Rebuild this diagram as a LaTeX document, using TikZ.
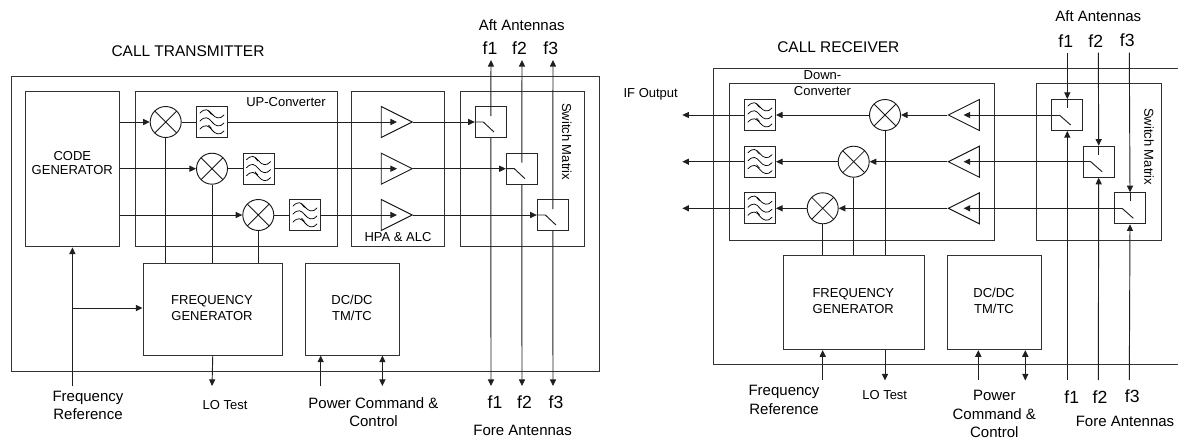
\documentclass[tikz,border=0pt]{standalone}
\usepackage{fontspec}
\setmainfont{Liberation Sans}
\usetikzlibrary{arrows.meta,shapes.geometric,calc}
\tikzset{
  wire/.style={line width=0.7pt,draw=black!88},
  tipped/.style={wire,-{Triangle[length=5pt,width=4.6pt]}},
  both/.style={wire,{Triangle[length=5pt,width=4.6pt]}-{Triangle[length=5pt,width=4.6pt]}},
  frame/.style={draw=black!80,line width=0.8pt,rectangle,inner sep=0pt,anchor=north west},
  cell/.style={draw=black!85,line width=0.7pt,rectangle,inner sep=0pt,minimum size=23.25pt,fill=white},
  mixer/.style={draw=black!90,line width=0.7pt,circle,inner sep=0pt,minimum size=23.25pt,fill=white,
    path picture={\draw[line width=0.6pt] (path picture bounding box.north west)--(path picture bounding box.south east)
      (path picture bounding box.south west)--(path picture bounding box.north east);}},
  ampr/.style={draw=black!90,line width=0.7pt,isosceles triangle,isosceles triangle apex angle=53.13,
    isosceles triangle stretches,inner sep=0pt,minimum width=23.25pt,minimum height=23.25pt,fill=white,anchor=apex},
  ampl/.style={ampr,shape border rotate=180},
  waves/.pic={\foreach \d in {-8,0,8}{\draw[line width=0.55pt,line cap=round] (-12,\d-1) .. controls (-7,\d-6) and (-4,\d-5) .. (0,\d) .. controls (3,\d+4) and (8,\d+6) .. (12,\d+1);}
    \draw[line width=0.5pt] (-3.5,-11)--(-0.5,-7.5) (-3.5,3)--(-0.5,6.5);},
  lbl/.style={inner sep=0pt,align=center,font=\fontsize{9.75}{12}\selectfont},
  big/.style={inner sep=0pt,align=center,font=\fontsize{11.25}{14}\selectfont},
  freq/.style={inner sep=0pt,font=\fontsize{13.2}{15}\selectfont},
  heading/.style={inner sep=0pt,font=\fontsize{11.6}{14}\selectfont},
}
\begin{document}
\begin{tikzpicture}[x=0.75pt,y=-0.75pt]
\useasboundingbox (0,0) rectangle (1178,440);
%% ---------- transmitter ----------
\node[frame,minimum width=441pt,minimum height=221.5pt] (tout) at (10.5,75.5) {};
\node[frame,minimum width=70.5pt,minimum height=116.5pt] (code) at (25,91) {};
\node[frame,minimum width=151.5pt,minimum height=116.5pt] (upc) at (134.5,91) {};
\node[frame,minimum width=69.75pt,minimum height=116.5pt] (hpa) at (351.3,91) {};
\node[frame,minimum width=92.75pt,minimum height=116.5pt] (tsm) at (460,91) {};
\node[frame,minimum width=104.6pt,minimum height=69pt] (tgen) at (142.5,262.5) {};
\node[frame,minimum width=70pt,minimum height=69pt] (tdc) at (305.3,262.5) {};
\node[lbl,font=\fontsize{9.75}{10.8}\selectfont] (tcodet) at (72.3,163) {CODE\\GENERATOR};
\node[lbl] (tgent) at (212,308) {FREQUENCY\\GENERATOR};
\node[lbl] (tdct) at (352,308) {DC/DC\\TM/TC};
\node[lbl] (upct) at (286,101.7) {UP-Converter};
\node[lbl] (hpat) at (398,237) {HPA \& ALC};
\node[lbl,rotate=-90] (tsmt) at (566.7,141.7) {Switch Matrix};
\node[heading] (ttitle) at (188,51) {CALL TRANSMITTER};
\node[big] (taft) at (521.7,24.7) {Aft Antennas};
\node[freq] (tf1) at (490,48.5) {f1};
\node[freq] (tf2) at (519.5,48.5) {f2};
\node[freq] (tf3) at (550.7,48.5) {f3};
\node[freq] (bf1) at (495,402.5) {f1};
\node[freq] (bf2) at (524.5,402.5) {f2};
\node[freq] (bf3) at (556,402.5) {f3};
\node[big] (tfore) at (522.6,430) {Fore Antennas};
\node[big] (tfref) at (88,405.5) {Frequency\\Reference};
\node[lbl] (tlo) at (225,405) {LO Test};
\node[big] (tpow) at (373.5,412) {Power Command \&\\Control};
\foreach \n/\mx/\fx/\ax/\sx/\vx/\y in {1/165.7/212/413.3/490.8/491/122,2/212/258.5/413.3/521.8/522/168.7,3/258.3/305/413.3/552.8/553/215}{
  \node[mixer] (tm\n) at (\mx,\y) {};
  \node[cell] (tfl\n) at (\fx,\y) {};
  \pic at (\fx,\y) {waves};
  \node[ampr] (ta\n) at (\ax,\y) {};
  \node[cell] (ts\n) at (\sx,\y) {};
  \coordinate (tsL\n) at ($(ts\n.center)+(-7.5,0)$);
  \coordinate (tsE\n) at ($(ts\n.center)+(3.2,10)$);
  \coordinate (tsU\n) at ($(ts\n.center)+(0,-6)$);
  \coordinate (ttop\n) at (\vx,60);
  \coordinate (tbot\n) at (\vx,386);
  \draw[tipped] (code.east |- tm\n) -- (tm\n.west);
  \draw[wire] (tm\n) -- (tfl\n);
  \draw[tipped] (tfl\n.east) -- (ta\n.left side |- tfl\n);
  \draw[tipped] (ta\n.apex) -- (ts\n.west);
  \draw[wire] (ts\n.west) -- (tsL\n) -- (tsE\n);
  \draw[tipped] (tsU\n) -- (ttop\n);
  \draw[tipped] (ts\n.south) -- (tbot\n);
  \draw[wire] (tm\n.south) -- (tm\n.south |- tgen.north);
}
\coordinate (tfin) at (72.4,386);
\coordinate (tbr) at (72.4,308);
\coordinate (tlob) at (212,386);
\coordinate (tpa) at (320.7,386);
\coordinate (tcm) at (382.4,386);
\draw[tipped] (tfin) -- (tfin |- code.south);
\draw[tipped] (tbr) -- (tgen.west |- tbr);
\draw[tipped] (tgen.south) -- (tlob);
\draw[tipped] (tpa) -- (tpa |- tdc.south);
\draw[both] (tcm) -- (tcm |- tdc.south);
%% ---------- receiver ----------
\coordinate (routa) at (1178,68.3);
\coordinate (routb) at (713.3,68.3);
\coordinate (routc) at (713.3,364.5);
\coordinate (routd) at (1178,364.5);
\draw[draw=black!80,line width=0.8pt] (routa) -- (routb) -- (routc) -- (routd);
\node[frame,minimum width=199.2pt,minimum height=117.3pt] (dnc) at (728.7,83.3) {};
\node[frame,minimum width=93.75pt,minimum height=117.3pt] (rsm) at (1036,83.3) {};
\node[frame,minimum width=105.5pt,minimum height=70.3pt] (rgen) at (783.3,255.3) {};
\node[frame,minimum width=70.3pt,minimum height=70.3pt] (rdc) at (947.3,255.3) {};
\node[lbl] (rgent) at (853.3,301.3) {FREQUENCY\\GENERATOR};
\node[lbl] (rdct) at (994,301.3) {DC/DC\\TM/TC};
\node[lbl] (dnct) at (822.5,83.3) {Down-\\Converter};
\node[lbl] (ift) at (650.7,94.7) {IF Output};
\node[lbl,rotate=-90] (rsmt) at (1149,146.7) {Switch Matrix};
\node[heading] (rtitle) at (838.3,46.7) {CALL RECEIVER};
\node[big] (raft) at (1098.3,15.7) {Aft Antennas};
\node[freq] (rf1) at (1065.7,40.7) {f1};
\node[freq] (rf2) at (1095.7,40.7) {f2};
\node[freq] (rf3) at (1127.3,40.7) {f3};
\node[freq] (sf1) at (1071.7,396.7) {f1};
\node[freq] (sf2) at (1100,396.7) {f2};
\node[freq] (sf3) at (1132.3,396.7) {f3};
\node[big] (rfore) at (1125,421.7) {Fore Antennas};
\node[big] (rfref) at (784,400) {Frequency\\Reference};
\node[lbl] (rlo) at (884.7,395.3) {LO Test};
\node[big] (rpow) at (994.3,414) {Power\\Command \&\\Control};
\foreach \n/\mx/\sx/\vx/\y in {1/885/1067.3/1067.3/115,2/853.7/1098.7/1098.3/161.7,3/822.7/1130/1129.3/208.3}{
  \node[cell] (rfl\n) at (760,\y) {};
  \pic at (760,\y) {waves};
  \node[mixer] (rm\n) at (\mx,\y) {};
  \node[ampl] (ra\n) at (947.3,\y) {};
  \node[cell] (rs\n) at (\sx,\y) {};
  \coordinate (rsL\n) at ($(rs\n.center)+(-8,0)$);
  \coordinate (rsE\n) at ($(rs\n.center)+(3.4,10)$);
  \coordinate (rsU\n) at ($(rs\n.center)+(0,-7)$);
  \coordinate (rtop\n) at (\vx,52.7);
  \coordinate (rbot\n) at (\vx,380);
  \coordinate (rif\n) at (682.3,\y);
  \draw[wire] (rsU\n) -- (rs\n.north);
  \draw[tipped] (rtop\n) -- (rs\n.north);
  \draw[tipped] (rbot\n) -- (rs\n.south);
  \draw[wire] (rsL\n) -- (rsE\n);
  \draw[tipped] (rsL\n) -- (ra\n.left side |- rs\n);
  \draw[tipped] (ra\n.apex) -- (rm\n.east);
  \draw[tipped] (rm\n.west) -- (rfl\n.east);
  \draw[tipped] (rfl\n.west) -- (rif\n);
  \draw[wire] (rm\n.south) -- (rm\n.south |- rgen.north);
}
\coordinate (rfin) at (822.7,380);
\coordinate (rlob) at (885,380.5);
\coordinate (rpa) at (978.3,380);
\coordinate (rcm) at (1025.3,380.5);
\draw[tipped] (rfin) -- (rfin |- rgen.south);
\draw[tipped] (rlob |- rgen.south) -- (rlob);
\draw[tipped] (rpa) -- (rpa |- rdc.south);
\draw[both] (rcm) -- (rcm |- rdc.south);
\end{tikzpicture}
\end{document}
